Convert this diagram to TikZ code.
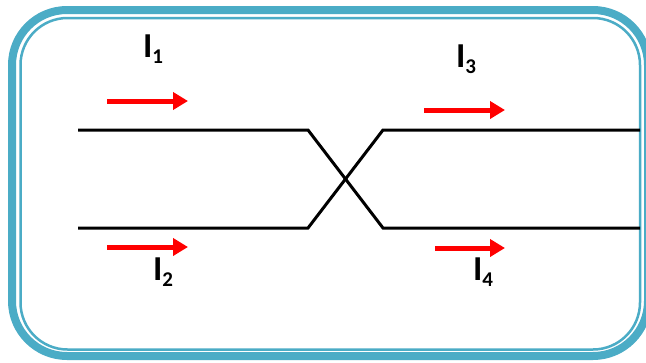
\documentclass[tikz,border=0pt]{standalone}
\usepackage{fontspec}
\setmainfont{Carlito}
\usetikzlibrary{arrows.meta}
\definecolor{frameblue}{HTML}{4BACC6}
\definecolor{arrred}{HTML}{FF0000}
\tikzset{
  outerframe/.style={draw=frameblue,line width=8pt,rounded corners=55pt},
  innerframe/.style={draw=frameblue,line width=2.5pt,rounded corners=47pt},
  wire/.style={draw=black,line width=3pt},
  current/.style={draw=arrred,line width=5pt,-{Triangle[length=15pt,width=17pt]}},
  lbl/.style={anchor=base,inner sep=0pt,font=\bfseries\fontsize{35}{35}\selectfont}
}
\newcommand{\cur}[1]{I\raisebox{-6pt}{\fontsize{21}{21}\selectfont #1}}
\begin{document}
\begin{tikzpicture}[x=1pt,y=-1pt]
\useasboundingbox (0,0) rectangle (646,362);
\path[fill=white] (0,0) rectangle (646,362);
\draw[outerframe] (12,10) rectangle (648,356);
\draw[innerframe] (20.5,18) rectangle (640,349.5);
% wires
\coordinate (tl) at (78,130);
\coordinate (tlk) at (308,130);
\coordinate (brk) at (383,228);
\coordinate (br) at (640,228);
\coordinate (bl) at (78,228);
\coordinate (blk) at (308,228);
\coordinate (trk) at (383,130);
\coordinate (tr) at (640,130);
\draw[wire,line join=miter] (tl) -- (tlk) -- (brk) -- (br);
\draw[wire,line join=miter] (bl) -- (blk) -- (trk) -- (tr);
% currents
\coordinate (a1s) at (107,101); \coordinate (a1e) at (188,101);
\coordinate (a2s) at (107,247); \coordinate (a2e) at (188,247);
\coordinate (a3s) at (424,110); \coordinate (a3e) at (505,110);
\coordinate (a4s) at (435,248); \coordinate (a4e) at (505,248);
\draw[current] (a1s) -- (a1e);
\draw[current] (a2s) -- (a2e);
\draw[current] (a3s) -- (a3e);
\draw[current] (a4s) -- (a4e);
\node[lbl] (l1) at (153,57) {\cur{1}};
\node[lbl] (l2) at (163,280) {\cur{2}};
\node[lbl] (l3) at (466,67) {\cur{3}};
\node[lbl] (l4) at (483,280) {\cur{4}};
\end{tikzpicture}
\end{document}
